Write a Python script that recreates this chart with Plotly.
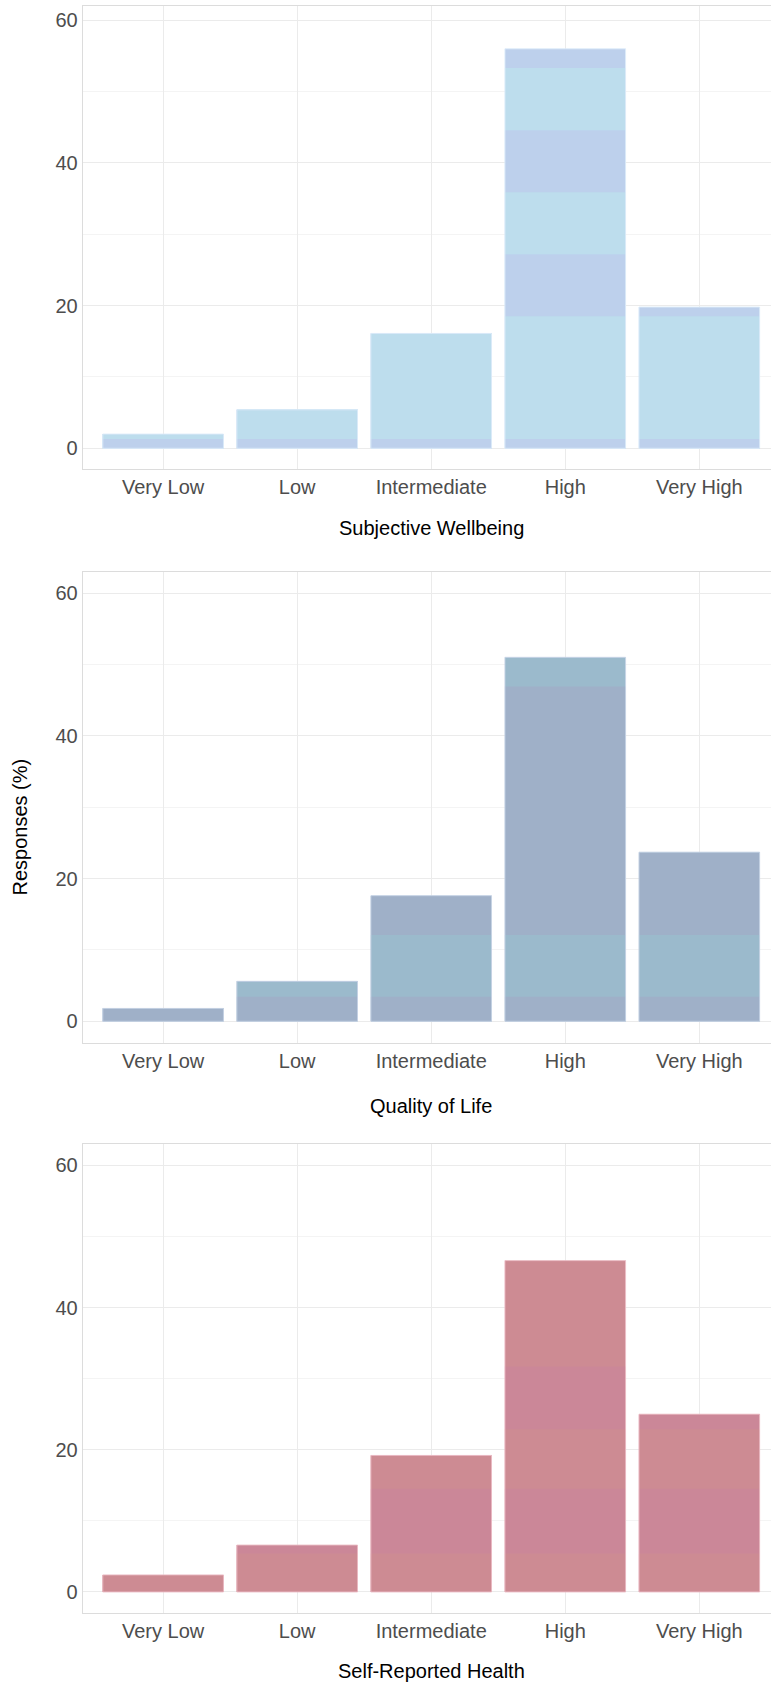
import plotly.graph_objects as go

# Response categories shared by all three questions
categories = ["Very Low", "Low", "Intermediate", "High", "Very High"]

# Share of responses (%) per category
wellbeing = [2.0, 5.4, 16.1, 56.0, 19.8]
quality_of_life = [1.8, 5.6, 17.6, 51.0, 23.7]
self_reported_health = [2.4, 6.6, 19.2, 46.6, 25.0]

panel_titles = ["Subjective Wellbeing", "Quality of Life", "Self-Reported Health"]

# Horizontal tint bands drawn across each panel's bars: (upper edge, fill colour)
BLUE_A, BLUE_B = "#BDDDED", "#BDD0EC"
SLATE, TEAL = "#9FB0C8", "#9BBACC"
SALMON, ROSE = "#CD8B93", "#CB8798"
tint_bands = [
    [(1.3, BLUE_B), (18.5, BLUE_A), (27.2, BLUE_B), (35.9, BLUE_A),
     (44.6, BLUE_B), (53.3, BLUE_A), (100, BLUE_B)],
    [(3.45, SLATE), (12.1, TEAL), (46.9, SLATE), (100, TEAL)],
    [(5.4, SALMON), (14.5, ROSE), (22.9, SALMON), (31.7, ROSE), (100, SALMON)],
]
outline_colors = ["rgba(222,236,250,0.9)", "rgba(200,212,230,0.9)", "rgba(236,190,198,0.9)"]

W, H = 771, 1684
# Panel placement in pixels (left edge, top/bottom per panel)
left_px = 82.7
panel_px = [(6.0, 469.0), (571.7, 1042.7), (1144.0, 1613.3)]
title_offset_px = [59, 63, 58]
y_ranges = [[-2.9, 62.0], [-3.0, 63.0], [-3.0, 63.0]]
x_range = [-0.6, 4.535]

GRID = "#EBEBEB"
MINOR = "#F4F4F4"
BORDER = "#DCDCDC"
TICK_COLOR = "#4D4D4D"
FONT = "Liberation Sans, Arial, sans-serif"

fig = go.Figure()
series = [wellbeing, quality_of_life, self_reported_health]

for i, values in enumerate(series):
    xa = "x" if i == 0 else f"x{i + 1}"
    ya = "y" if i == 0 else f"y{i + 1}"
    # Paint from the top band down, each bar clipped at the band's upper edge,
    # so lower bands overlay higher ones without seams between them.
    for hi, color in reversed(tint_bands[i]):
        fig.add_trace(go.Bar(
            x=categories, y=[min(v, hi) for v in values],
            xaxis=xa, yaxis=ya, width=0.9,
            marker=dict(color=color, line=dict(width=0)),
            showlegend=False, hoverinfo="skip",
        ))
    # outline of the full bar
    fig.add_trace(go.Bar(
        x=categories, y=values, xaxis=xa, yaxis=ya, width=0.9,
        marker=dict(color="rgba(0,0,0,0)", line=dict(width=1, color=outline_colors[i])),
        showlegend=False, hovertemplate="%{x}: %{y}%<extra></extra>",
    ))

layout = dict(
    width=W, height=H,
    margin=dict(l=0, r=0, t=0, b=0),
    paper_bgcolor="white", plot_bgcolor="white",
    barmode="overlay", bargap=0.1,
    font=dict(family=FONT, size=20, color=TICK_COLOR),
    showlegend=False,
)

annotations = []
for i in range(3):
    top, bot = panel_px[i]
    xkey = "xaxis" if i == 0 else f"xaxis{i + 1}"
    ykey = "yaxis" if i == 0 else f"yaxis{i + 1}"
    xa = "x" if i == 0 else f"x{i + 1}"
    ya = "y" if i == 0 else f"y{i + 1}"
    layout[xkey] = dict(
        domain=[left_px / W, 1.0], anchor=ya, type="category",
        categoryorder="array", categoryarray=categories,
        range=x_range, showgrid=True, gridcolor=GRID, gridwidth=1,
        showline=True, linecolor=BORDER, linewidth=1, mirror=True,
        ticks="", tickfont=dict(size=20, color=TICK_COLOR, family=FONT),
        zeroline=False, fixedrange=True,
    )
    layout[ykey] = dict(
        domain=[1 - bot / H, 1 - top / H], anchor=xa,
        range=y_ranges[i], tickmode="array", tickvals=[0, 20, 40, 60],
        showgrid=True, gridcolor=GRID, gridwidth=1,
        minor=dict(tickvals=[10, 30, 50], showgrid=True, gridcolor=MINOR, gridwidth=1),
        showline=True, linecolor=BORDER, linewidth=1, mirror=True,
        ticks="", tickfont=dict(size=20, color=TICK_COLOR, family=FONT),
        zeroline=False, fixedrange=True,
    )
    annotations.append(dict(
        text=panel_titles[i], xref=xa, x=2, yref="paper",
        y=1 - (bot + title_offset_px[i]) / H, yanchor="middle", xanchor="center",
        showarrow=False, font=dict(size=20, color="black", family=FONT),
    ))

annotations.append(dict(
    text="Responses (%)", xref="paper", x=19.5 / W, yref="paper", y=1 - 827 / H,
    textangle=-90, xanchor="center", yanchor="middle", showarrow=False,
    font=dict(size=20, color="black", family=FONT),
))
layout["annotations"] = annotations

fig.update_layout(**layout)
fig.write_html("out.html")
